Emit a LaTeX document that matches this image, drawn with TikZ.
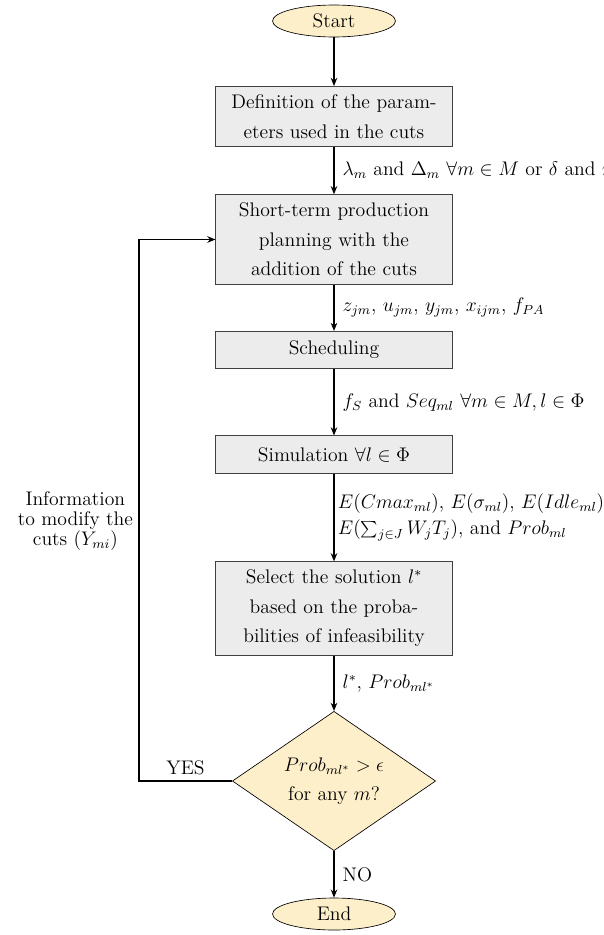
\documentclass[tikz,border=0pt]{standalone}
\usetikzlibrary{shapes.geometric,arrows.meta}

\definecolor{termfill}{RGB}{253,239,201}
\definecolor{boxfill}{RGB}{236,236,236}

\tikzset{
  process/.style={rectangle, draw=black!75, line width=0.6pt, fill=boxfill,
    text width=136pt, align=center, inner xsep=4pt, inner ysep=5pt,
    minimum height=22.6pt, font=\fontsize{12}{18}\selectfont},
  terminal/.style={ellipse, draw, fill=termfill, minimum width=75pt,
    minimum height=19.5pt, inner sep=0pt, font=\fontsize{12}{14.5}\selectfont},
  decision/.style={diamond, draw, fill=termfill, minimum width=124pt,
    minimum height=85pt, aspect=1.46, inner sep=0pt, align=center,
    font=\fontsize{12}{18}\selectfont},
  flow/.style={thick, -{Stealth[length=5pt,width=4pt]}},
  lbl/.style={font=\fontsize{12}{14}\selectfont, align=left}
}

\begin{document}
\begin{tikzpicture}[x=0.61pt, y=-0.61pt]
      \useasboundingbox (0,0) rectangle (603,935);
      % main column
      \node[terminal] (start) at (334,21) {Start};
      \node[process] (param) at (334,116.5) {Definition of the param-\\eters used in the cuts};
      \node[process] (plan) at (334,239.5) {Short-term production\\planning with the\\addition of the cuts};
      \node[process] (sched) at (334,350) {Scheduling};
      \node[process] (sim) at (334,454.5) {Simulation \mbox{$\forall l \in \Phi$}};
      \node[process] (select) at (334,608.5) {Select the solution \mbox{$l^*$}\\based on the proba-\\bilities of infeasibility};
      \node[decision] (check) at (334,781) {$Prob_{ml^*} > \epsilon$\\for any $m$?};
      \node[terminal] (end) at (334,914) {End};
      \coordinate (corner) at (139,781);
      % arrows
      \draw[flow] (start) -- (param);
      \draw[flow] (param) -- node[lbl,right=1.5pt] {$\lambda_m$ and $\Delta_m$ $\forall m \in M$ or $\delta$ and $\eta$} (plan);
      \draw[flow] (plan) -- node[lbl,right=1.5pt] {$z_{jm}$, $u_{jm}$, $y_{jm}$, $x_{ijm}$, $f_{PA}$} (sched);
      \draw[flow] (sched) -- node[lbl,right=1.5pt] {$f_S$ and $Seq_{ml}$ $\forall m \in M, l \in \Phi$} (sim);
      \draw[flow] (sim) -- node[lbl,right=0pt,inner xsep=2pt] {$E(Cmax_{ml})$, $E(\sigma_{ml})$, $E(Idle_{ml})$\\[2pt]$E(\sum_{j \in J} W_jT_j)$, and $Prob_{ml}$} (select);
      \draw[flow] (select) -- node[lbl,right=1.5pt] {$l^*$, $Prob_{ml^*}$} (check);
      \draw[flow] (check) -- node[lbl,right=1.5pt] {NO} (end);
      % loop back
      \draw[flow] (check.west) -- node[lbl,above] {YES} (corner) |- node[lbl,font=\fontsize{12}{12}\selectfont,align=center,left,pos=0.24] {Information\\to modify the\\cuts ($Y_{mi}$)} (plan.west);
    \end{tikzpicture}
\end{document}
